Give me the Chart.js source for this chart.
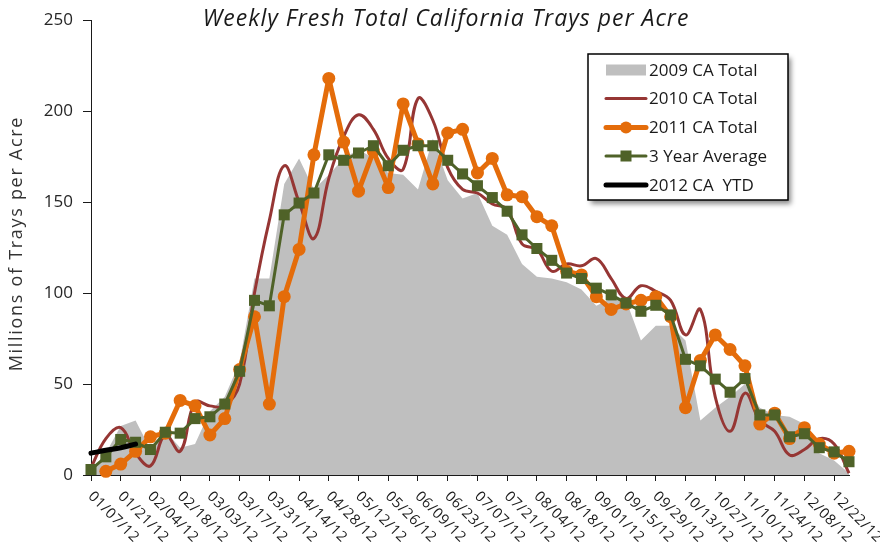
<!DOCTYPE html>
<html>
<head>
<meta charset="utf-8">
<script src="https://cdn.jsdelivr.net/npm/chart.js@4.4.1/dist/chart.umd.min.js"></script>
<style>
  html, body { margin: 0; padding: 0; background: #fff; }
  #wrap { width: 880px; height: 545px; position: relative; }
</style>
</head>
<body>
<div id="wrap"><canvas id="chart"></canvas></div>
<script>
// weekly categories (only every other one is labelled)
const weeks = [
  "01/07/12", "01/14/12", "01/21/12", "01/28/12", "02/04/12", "02/11/12", "02/18/12", "02/25/12",
  "03/03/12", "03/10/12", "03/17/12", "03/24/12", "03/31/12", "04/07/12", "04/14/12", "04/21/12",
  "04/28/12", "05/05/12", "05/12/12", "05/19/12", "05/26/12", "06/02/12", "06/09/12", "06/16/12",
  "06/23/12", "06/30/12", "07/07/12", "07/14/12", "07/21/12", "07/28/12", "08/04/12", "08/11/12",
  "08/18/12", "08/25/12", "09/01/12", "09/08/12", "09/15/12", "09/22/12", "09/29/12", "10/06/12",
  "10/13/12", "10/20/12", "10/27/12", "11/03/12", "11/10/12", "11/17/12", "11/24/12", "12/01/12",
  "12/08/12", "12/15/12", "12/22/12", "12/29/12"
];

const ca2009 = [2, 12, 27, 30, 14, 24, 15, 17, 35, 43, 62, 108, 108, 160, 174, 157, 165, 174, 179, 174,
  166, 165, 157, 185, 162, 152, 155, 137, 132, 116, 109, 108, 106, 102, 93, 97, 96, 74, 82, 82,
  74, 30, 37, 43, 50, 37, 33, 32, 28, 12, 8, 1];

const ca2010 = [4, 20, 26, 12, 5, 22, 13, 40, 38, 38, 50, 100, 140, 170, 150, 130, 163, 186, 198, 190,
  174, 168, 207, 195, 169, 157, 155, 149, 146, 127, 124, 112, 116, 115, 119, 108, 97, 104, 101, 96,
  77, 91, 43, 24, 45, 30, 24, 11, 14, 20, 17, 1];

const ca2011 = [null, 2, 6, 13, 21, 23, 41, 38, 22, 31, 58, 87, 39, 98, 124, 176, 218, 183, 156, 178,
  158, 204, 182, 160, 188, 190, 166, 174, 154, 153, 142, 137, 112, 110, 98, 91, 94, 96, 98, 87,
  37, 63, 77, 69, 60, 28, 34, 20, 26, 17, 12, 13];

const avg3yr = [3, 10, 19.5, 18, 14, 23.5, 23, 31, 32, 39, 57, 96, 93, 143, 149.5, 155, 176, 173, 177, 181,
  170, 178.5, 181, 181, 173, 165.5, 159, 152.5, 145, 132, 124.5, 118, 111, 108, 102.7, 99, 94.5, 90, 93.3, 88,
  63.6, 60, 52.7, 45.5, 53, 33, 33, 21, 22.7, 15, 12.7, 7.3];

const ca2012 = [12, 13.6, 15, 17];

const yTicks = [0, 50, 100, 150, 200, 250];

const titleText = "Weekly Fresh Total California Trays per Acre";
const yTitle = "Millions of Trays per Acre";

const FONT = '"Open Sans", "DejaVu Sans", sans-serif';
const GRAY = "#bfbfbf", RED = "#963634", ORANGE = "#e46c0a", GREEN = "#4f6228";

// title, axis title, rotated x labels and the boxed legend
const extras = {
  id: "extras",
  afterDraw(chart) {
    const ctx = chart.ctx;
    const xs = chart.scales.x;
    const ys = chart.scales.y;

    ctx.save();
    ctx.fillStyle = "#1a1a1a";
    ctx.font = "italic 23px " + FONT;
    ctx.letterSpacing = "1px";
    ctx.textAlign = "center";
    ctx.textBaseline = "middle";
    ctx.fillText(titleText, 446, 19);
    ctx.restore();

    ctx.save();
    ctx.fillStyle = "#333";
    ctx.font = "18px " + FONT;
    ctx.letterSpacing = "1.7px";
    ctx.textAlign = "center";
    ctx.textBaseline = "middle";
    ctx.translate(17, (ys.top + ys.bottom) / 2 - 4);
    ctx.rotate(-Math.PI / 2);
    ctx.fillText(yTitle, 0, 0);
    ctx.restore();

    ctx.save();
    ctx.fillStyle = "#1a1a1a";
    ctx.font = "14.5px " + FONT;
    ctx.letterSpacing = "0.6px";
    ctx.textAlign = "left";
    ctx.textBaseline = "middle";
    weeks.forEach((w, i) => {
      if (i % 2) return;
      const px = xs.getPixelForValue(i);
      ctx.save();
      ctx.translate(px - 0.5, xs.top + 19);
      ctx.rotate(Math.PI / 4);
      ctx.fillText(w, 0, 0);
      ctx.restore();
    });
    ctx.restore();

    // legend box
    const bx = 588, by = 54, bw = 200, bh = 146;
    ctx.save();
    ctx.shadowColor = "rgba(0,0,0,0.45)";
    ctx.shadowBlur = 5;
    ctx.shadowOffsetX = 3;
    ctx.shadowOffsetY = 4;
    ctx.fillStyle = "#fff";
    ctx.fillRect(bx, by, bw, bh);
    ctx.restore();
    ctx.save();
    ctx.strokeStyle = "#000";
    ctx.lineWidth = 1.5;
    ctx.strokeRect(bx, by, bw, bh);

    const rows = [70, 98.5, 127.5, 156, 185];
    const sx0 = 606, sx1 = 646, sc = 626;
    ctx.lineCap = "round";
    // 2009
    ctx.fillStyle = GRAY;
    ctx.fillRect(sx0, rows[0] - 5.5, sx1 - sx0, 11);
    // 2010
    ctx.strokeStyle = RED; ctx.lineWidth = 3;
    ctx.beginPath(); ctx.moveTo(sx0, rows[1]); ctx.lineTo(sx1, rows[1]); ctx.stroke();
    // 2011
    ctx.strokeStyle = ORANGE; ctx.lineWidth = 5;
    ctx.beginPath(); ctx.moveTo(sx0, rows[2]); ctx.lineTo(sx1, rows[2]); ctx.stroke();
    ctx.fillStyle = ORANGE;
    ctx.beginPath(); ctx.arc(sc, rows[2], 6, 0, Math.PI * 2); ctx.fill();
    // 3 yr
    ctx.strokeStyle = GREEN; ctx.lineWidth = 3;
    ctx.beginPath(); ctx.moveTo(sx0, rows[3]); ctx.lineTo(sx1, rows[3]); ctx.stroke();
    ctx.fillStyle = GREEN;
    ctx.fillRect(sc - 5.5, rows[3] - 5.5, 11, 11);
    // 2012
    ctx.strokeStyle = "#000"; ctx.lineWidth = 5;
    ctx.beginPath(); ctx.moveTo(sx0, rows[4]); ctx.lineTo(sx1, rows[4]); ctx.stroke();

    ctx.fillStyle = "#1a1a1a";
    ctx.font = "17px " + FONT;
    ctx.textAlign = "left";
    ctx.textBaseline = "middle";
    const names = ["2009 CA Total", "2010 CA Total", "2011 CA Total", "3 Year Average", "2012 CA  YTD"];
    names.forEach((n, i) => ctx.fillText(n, 649, rows[i] + 1));
    ctx.restore();
  }
};

const chart = new Chart("chart", {
  type: "line",
  data: {
    labels: weeks,
    datasets: [
      {
        label: "2009 CA Total",
        data: ca2009,
        order: 5,
        fill: "origin",
        backgroundColor: GRAY,
        borderWidth: 0,
        pointRadius: 0,
        tension: 0,
      },
      {
        label: "2010 CA Total",
        data: ca2010,
        order: 4,
        borderColor: RED,
        borderWidth: 3,
        pointRadius: 0,
        tension: 0.4,
        clip: false,
      },
      {
        label: "2011 CA Total",
        data: ca2011,
        order: 3,
        borderColor: ORANGE,
        backgroundColor: ORANGE,
        borderWidth: 5,
        borderJoinStyle: "round",
        pointRadius: 6.5,
        pointBorderWidth: 0,
        pointStyle: "circle",
        tension: 0,
        clip: false,
      },
      {
        label: "3 Year Average",
        data: avg3yr,
        order: 2,
        borderColor: GREEN,
        backgroundColor: GREEN,
        borderWidth: 3,
        borderJoinStyle: "round",
        pointRadius: 7.8,
        pointBorderWidth: 0,
        pointStyle: "rect",
        tension: 0,
        clip: false,
      },
      {
        label: "2012 CA  YTD",
        data: ca2012,
        order: 1,
        borderColor: "#000",
        borderWidth: 5,
        borderCapStyle: "round",
        pointRadius: 0,
        tension: 0.4,
        clip: false,
      },
    ],
  },
  options: {
    responsive: true,
    maintainAspectRatio: false,
    animation: false,
    layout: { padding: { top: 17, right: 31, left: 0, bottom: 0 } },
    plugins: {
      legend: { display: false },
      tooltip: { enabled: false },
      title: { display: false },
    },
    scales: {
      x: {
        afterFit(scale) { scale.height = 70; },
        ticks: { display: false, autoSkip: false },
        grid: {
          drawOnChartArea: false,
          drawTicks: true,
          tickLength: 6,
          color: (c) => (c.index % 2 === 0 ? "#1a1a1a" : "rgba(0,0,0,0)"),
        },
        border: { color: "#1a1a1a", width: 1 },
      },
      y: {
        min: 0,
        max: 250,
        afterFit(scale) { scale.width = 91; },
        afterBuildTicks(scale) { scale.ticks = yTicks.map((v) => ({ value: v })); },
        ticks: {
          color: "#262626",
          font: { family: FONT, size: 17 },
          padding: 10,
        },
        grid: { drawOnChartArea: false, drawTicks: true, tickLength: 8, color: "#1a1a1a" },
        border: { color: "#1a1a1a", width: 1 },
      },
    },
  },
  plugins: [extras],
});
</script>
</body>
</html>
